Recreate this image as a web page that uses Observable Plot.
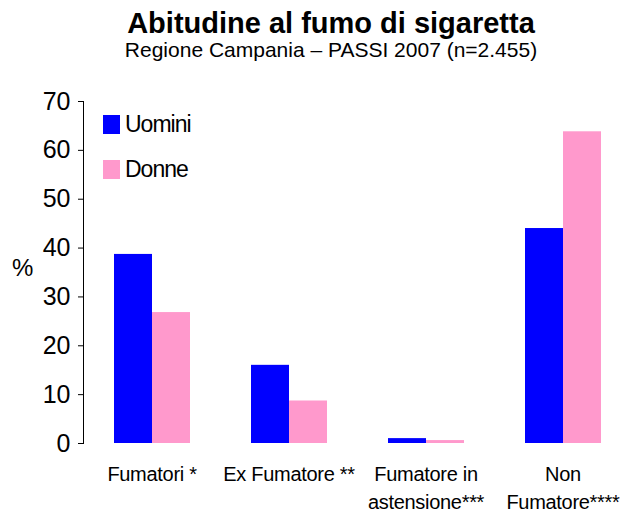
<!DOCTYPE html>
<html><head><meta charset="utf-8">
<script src="https://cdn.jsdelivr.net/npm/d3@7"></script>
<script src="https://cdn.jsdelivr.net/npm/@observablehq/plot@0.6"></script>
<style>
html,body{margin:0;padding:0;background:#fff;overflow:hidden;}
body{width:622px;height:514px;position:relative;font-family:"Liberation Sans",Arial,sans-serif;color:#000;}
#header{width:622px;box-sizing:border-box;padding-left:40px;height:75px;text-align:center;}
#title{padding-top:8px;font-weight:bold;font-size:29px;line-height:30px;}
#subtitle{font-size:21px;line-height:24px;}
#chart{width:622px;height:439px;overflow:hidden;}
#chart svg{max-width:none !important;width:632px !important;height:439px !important;}
.sw{position:absolute;width:17px;height:19px;}
.lt{position:absolute;font-size:23px;line-height:23px;letter-spacing:-1px;white-space:nowrap;}
#pct{position:absolute;left:12px;top:256px;font-size:24px;line-height:24px;}
#chart svg g[aria-label="fx-axis tick label"] text{letter-spacing:-0.3px;}
</style>
</head><body>
<div id="header"><div id="title">Abitudine al fumo di sigaretta</div><div id="subtitle">Regione Campania – PASSI 2007 (n=2.455)</div></div>
<div id="chart"></div>
<div id="legend"></div>
<div id="pct">%</div>
<script>
const categories = ["Fumatori *", "Ex Fumatore **", "Fumatore in\nastensione***", "Non\nFumatore****"];
const series = ["Uomini", "Donne"];
const uomini = [38.7, 16.0, 1.0, 44.0];
const donne = [26.8, 8.7, 0.6, 63.8];
const colors = ["#0000FF", "#FF99CC"];
const yTicks = [0, 10, 20, 30, 40, 50, 60, 70];

const data = categories.flatMap((c, i) => [
  {cat: c, sex: series[0], value: uomini[i]},
  {cat: c, sex: series[1], value: donne[i]}
]);

const chart = Plot.plot({
  width: 632, height: 439,
  marginTop: 26, marginBottom: 71, marginLeft: 81, marginRight: 0,
  style: {fontFamily: "Liberation Sans, Arial, sans-serif", fontSize: "25px", color: "#000", background: "transparent", overflow: "visible", maxWidth: "none"},
  fx: {domain: categories, padding: 0, label: null},
  x: {domain: series, paddingInner: 0, paddingOuter: 0.765, axis: null},
  y: {domain: [0, 70], ticks: yTicks, label: null, line: true, tickSize: 5, tickPadding: 8},
  color: {domain: series, range: colors},
  marks: [
    Plot.barY(data, {fx: "cat", x: "sex", y: "value", fill: "sex"}),
    Plot.axisFx({anchor: "bottom", tickSize: 0, tickPadding: 18, fontSize: 20, lineHeight: 1.4, label: null})
  ]
});
document.getElementById("chart").appendChild(chart);

const legend = document.getElementById("legend");
series.forEach((s, i) => {
  const top = 115 + i * 45;
  const sw = document.createElement("div");
  sw.className = "sw";
  sw.style.left = "103px"; sw.style.top = top + "px"; sw.style.background = colors[i];
  legend.appendChild(sw);
  const t = document.createElement("div");
  t.className = "lt";
  t.style.left = "125px"; t.style.top = (top - 2.5) + "px";
  t.textContent = s;
  legend.appendChild(t);
});
</script>
</body></html>
